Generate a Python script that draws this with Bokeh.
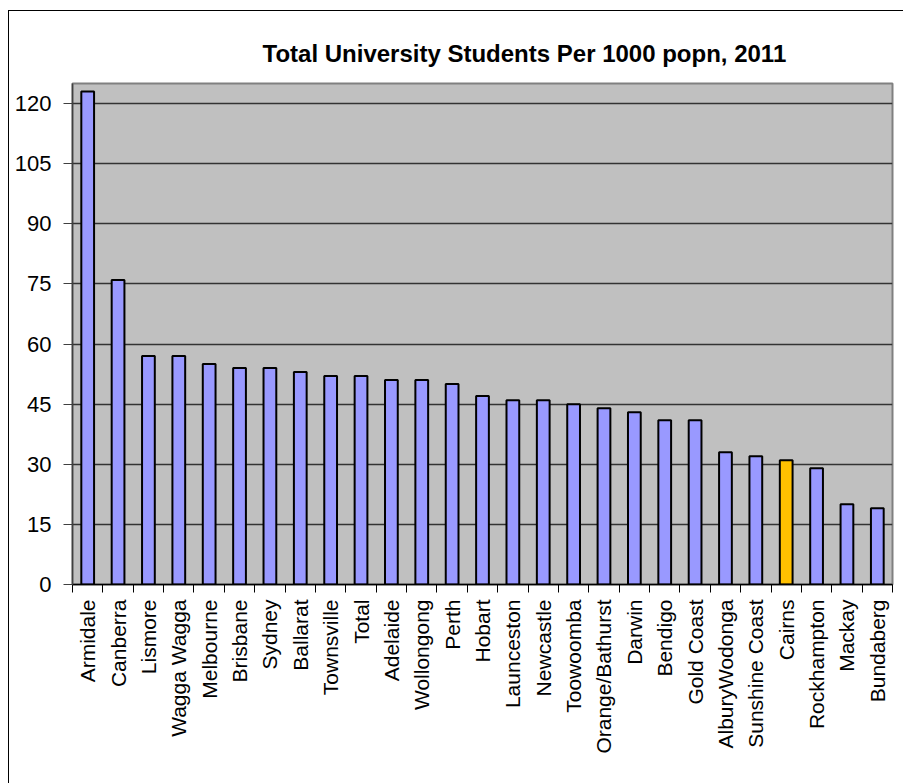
import math
from bokeh.plotting import figure
from bokeh.models import Range1d, FixedTicker, ColumnDataSource
from bokeh.embed import file_html
from bokeh.resources import INLINE

cities = ["Armidale", "Canberra", "Lismore", "Wagga Wagga", "Melbourne", "Brisbane",
          "Sydney", "Ballarat", "Townsville", "Total", "Adelaide", "Wollongong", "Perth",
          "Hobart", "Launceston", "Newcastle", "Toowoomba", "Orange/Bathurst", "Darwin",
          "Bendigo", "Gold Coast", "AlburyWodonga", "Sunshine Coast", "Cairns",
          "Rockhampton", "Mackay", "Bundaberg"]
students = [123, 76, 57, 57, 55, 54, 54, 53, 52, 52, 51, 51, 50, 47, 46, 46, 45, 44,
            43, 41, 41, 33, 32, 31, 29, 20, 19]
highlight = "Cairns"
y_ticks = [0, 15, 30, 45, 60, 75, 90, 105, 120]
title_text = "Total University Students Per 1000 popn, 2011"

n = len(cities)
centers = [i + 0.5 for i in range(n)]
colors = ["#FFC000" if c == highlight else "#9999FF" for c in cities]
src = ColumnDataSource(dict(x=centers, top=students, color=colors, city=cities))

FONT = "Liberation Sans"

p = figure(width=895, height=773, output_backend="svg", toolbar_location=None,
           x_range=Range1d(0, n), y_range=Range1d(0, 125),
           min_border_left=63, min_border_right=12, min_border_top=72, min_border_bottom=200)
p.margin = (10, 0, 0, 8)
p.styles = {"border-left": "1px solid black", "border-top": "1px solid black"}

p.title.text = title_text
p.title.text_font = FONT
p.title.text_font_size = "24px"
p.title.text_font_style = "bold"
p.title.text_color = "black"
p.title.align = "left"
p.title.offset = 190
p.title.standoff = 34

p.background_fill_color = "#C0C0C0"
p.border_fill_color = "white"
p.outline_line_color = "#808080"
p.outline_line_width = 2

p.vbar(x="x", top="top", width=0.42, source=src, fill_color="color",
       line_color="black", line_width=2)

p.xgrid.visible = False
p.ygrid.ticker = FixedTicker(ticks=y_ticks)
p.ygrid.grid_line_color = "#333333"
p.ygrid.grid_line_width = 1.5

ya = p.yaxis[0]
ya.ticker = FixedTicker(ticks=y_ticks)
ya.major_label_text_font = FONT
ya.major_label_text_font_size = "22px"
ya.major_label_text_color = "black"
ya.major_tick_out = 9
ya.major_tick_in = 0
ya.minor_tick_out = 0
ya.minor_tick_in = 0
ya.major_label_standoff = 12
ya.axis_line_color = "#404040"
ya.axis_line_width = 1.5
ya.major_tick_line_color = "#404040"

xa = p.xaxis[0]
xa.ticker = FixedTicker(ticks=centers, minor_ticks=list(range(n + 1)))
xa.major_label_overrides = {c: name for c, name in zip(centers, cities)}
xa.major_label_orientation = math.pi / 2
xa.major_label_text_font = FONT
xa.major_label_text_font_size = "21px"
xa.major_label_text_color = "black"
xa.major_tick_out = 0
xa.major_tick_in = 0
xa.minor_tick_out = 8
xa.minor_tick_in = 0
xa.minor_tick_line_color = "black"
xa.major_label_standoff = 7
xa.axis_line_color = "black"
xa.axis_line_width = 1.5

open("out.html", "w").write(file_html(p, INLINE))
